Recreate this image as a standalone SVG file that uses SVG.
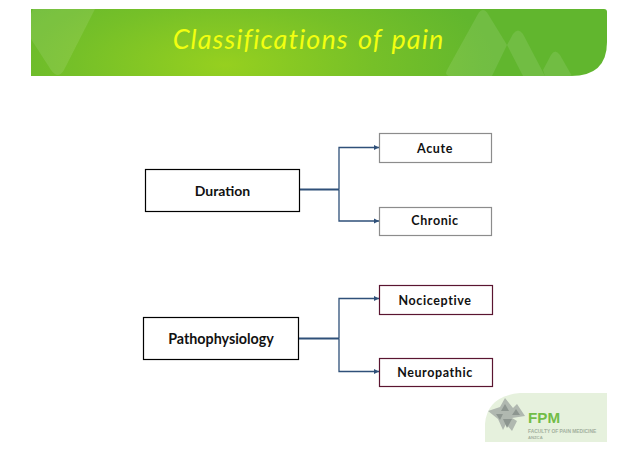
<svg xmlns="http://www.w3.org/2000/svg" width="638" height="451" viewBox="0 0 638 451">
<style>
.n{fill:#fff;stroke-width:1.2}
.b{stroke:#000}
.g{stroke:#8c8c8c}
.r{stroke:#5a1530}
.t{font-family:Lato,"Open Sans","Liberation Sans",sans-serif;font-weight:700;fill:#111;text-anchor:middle}
.c{fill:none;stroke:#2f5079}
.m{fill:#fff;opacity:.1}
.l{fill:#b0b8b0}
.d{fill:#8d9690}
.s{font-family:"Liberation Sans",sans-serif;font-weight:700;fill:#a3b09e}
</style>
<defs>
<radialGradient id="bg" gradientUnits="userSpaceOnUse" cx="0" cy="0" r="1" gradientTransform="translate(225 65) scale(270 110)">
<stop offset="0" stop-color="#96d01f"/><stop offset=".55" stop-color="#76c028"/><stop offset="1" stop-color="#61b62e"/>
</radialGradient>
<marker id="a" markerWidth="6" markerHeight="6" refX="5" refY="3" orient="auto" markerUnits="userSpaceOnUse"><path d="M0 .5L5 3L0 5.500z" fill="#2f5079"/></marker>
</defs>
<rect width="638" height="451" fill="#fff"/>
<g id="banner">
<path d="M31 9H604Q607 9 607 12V42Q607 76 571 76H31Z" fill="url(#bg)"/>
<path class="m" d="M33 9H95L64 70Q58 80 51 70L31 39V14Z"/>
<path class="m" d="M447 70L478 14Q483 6 488 14L507 45L492 76H451Q444 76 447 70Z"/>
<path class="m" d="M507 45L513 34Q518 27 523 34L545 76H523Z"/>
<path class="m" d="M543 70L551 55Q555 48 560 55L572 76H545Z"/>
<text x="308.500" y="49" font-family="Lato,'Open Sans',sans-serif" font-style="italic" font-size="27" letter-spacing="1.050" word-spacing="2" fill="#f2ff10" text-anchor="middle">Classifications of pain</text>
</g>
<g id="connectors">
<path class="c" stroke-width="2" d="M300 189.500H339"/>
<path class="c" stroke-width="1.300" marker-end="url(#a)" d="M339 189.500V147.500H379"/>
<path class="c" stroke-width="1.300" marker-end="url(#a)" d="M339 189.500V221H379"/>
<path class="c" stroke-width="2" d="M299 338.500H339"/>
<path class="c" stroke-width="1.300" marker-end="url(#a)" d="M339 338.500V298.500H379"/>
<path class="c" stroke-width="1.300" marker-end="url(#a)" d="M339 338.500V371.500H379"/>
</g>
<g id="duration"><rect class="n b" x="145.500" y="169.500" width="154" height="42"/><text class="t" x="222.500" y="196" font-size="14">Duration</text></g>
<g id="acute"><rect class="n g" x="379.500" y="133.500" width="112" height="29"/><text class="t" x="435" y="153" font-size="12.500" letter-spacing=".6">Acute</text></g>
<g id="chronic"><rect class="n g" x="379.500" y="207.500" width="112" height="28"/><text class="t" x="435" y="225" font-size="12.500" letter-spacing=".6">Chronic</text></g>
<g id="pathophysiology"><rect class="n b" x="143.500" y="317.500" width="155" height="42"/><text class="t" x="221" y="344" font-size="14.300">Pathophysiology</text></g>
<g id="nociceptive"><rect class="n r" x="379.500" y="285.500" width="113" height="29"/><text class="t" x="435" y="305" font-size="12.500" letter-spacing=".6">Nociceptive</text></g>
<g id="neuropathic"><rect class="n r" x="379.500" y="358.500" width="113" height="28"/><text class="t" x="435" y="377" font-size="12.500" letter-spacing=".6">Neuropathic</text></g>
<g id="logo">
<path d="M485 442V424Q487 396 520 393H607V442Z" fill="#e6f1dd"/>
<path class="l" d="M488 411L500 407L505 398L513 408L517 404L525 416L512 418L517 421L512 431L506 424L503 430L498 419Z"/>
<path class="d" d="M505 404L509 411H501ZM516 409L520 415H512ZM496 414L503 414L500 420ZM503 419H512L507 428Z"/>
<text class="s" x="528" y="423" font-size="15.200" style="fill:#72bd48">FPM</text>
<text class="s" x="528" y="433" font-size="4.900">FACULTY OF PAIN MEDICINE</text>
<text class="s" x="528" y="439" font-size="4.200">ANZCA</text>
</g>
</svg>
